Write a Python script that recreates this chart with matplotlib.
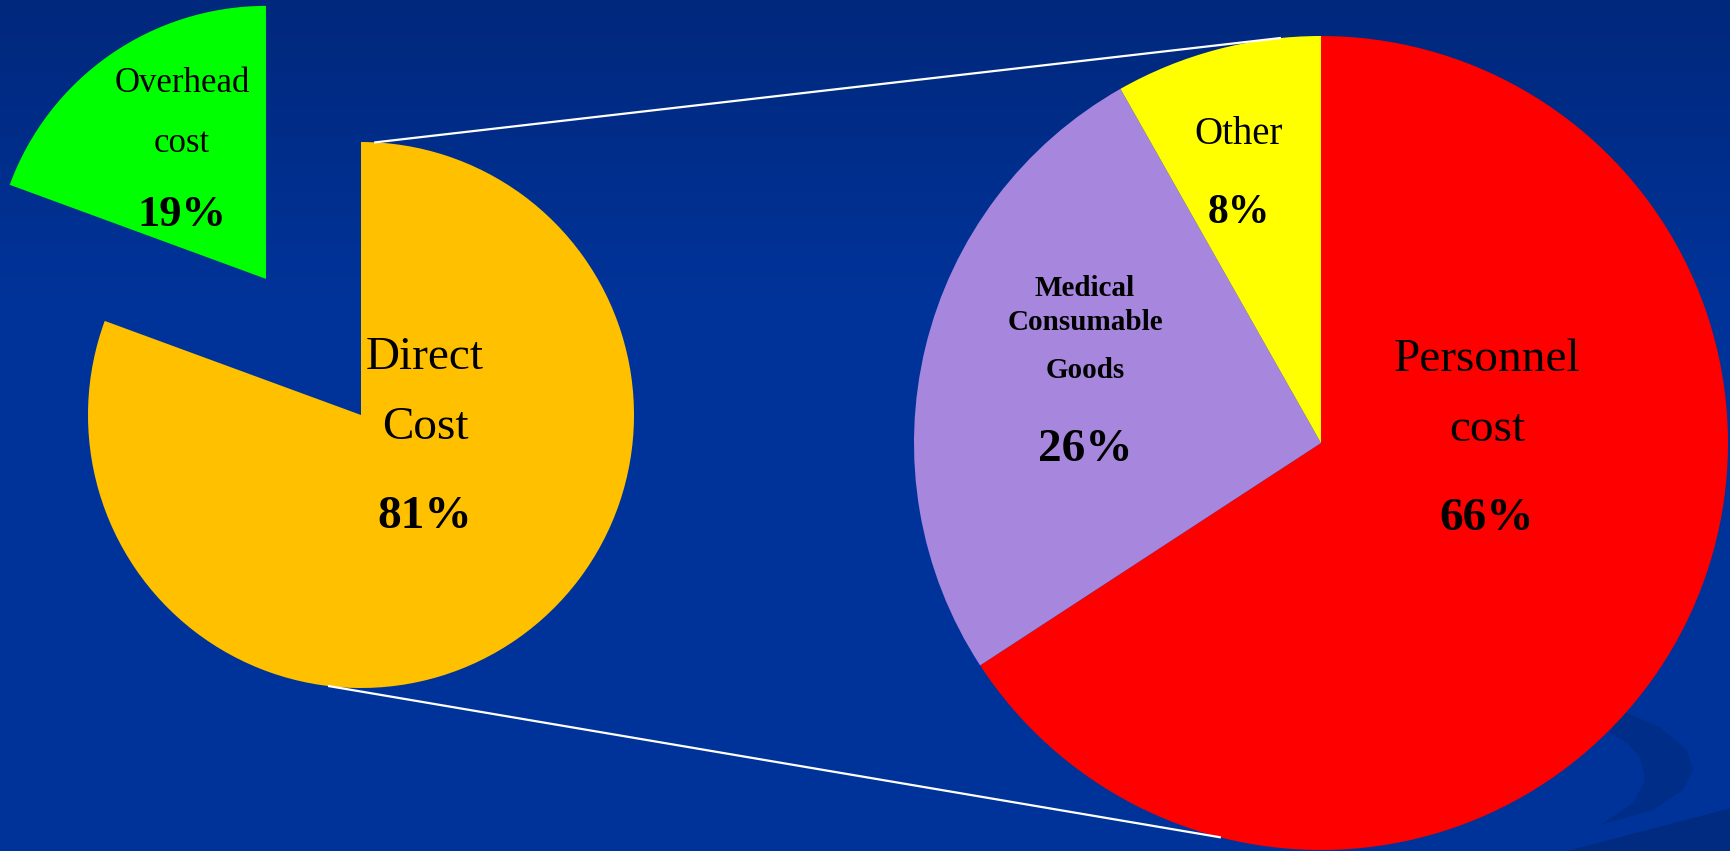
import numpy as np
import matplotlib.pyplot as plt
from matplotlib.patches import Polygon

W, H = 1731, 851

# data (shares as measured from the wedge angles)
left_labels = ['Overhead\ncost', 'Direct\nCost']
left_values = [19.4, 80.6]
left_colors = ['#00FF00', '#FFC000']

right_labels = ['Personnel\ncost', 'Medical\nConsumable\nGoods', 'Other']
right_values = [65.8, 26.0, 8.2]
right_colors = ['#FF0000', '#A786DE', '#FFFF00']

# layout (pixels, y measured from the top)
left_center = (361, 415)
left_radius = 273
left_explode = [166, 0]
right_center = (1321, 443)
right_radius = 407

SERIF = 'Liberation Serif'


def up(y):
    return H - y


fig = plt.figure(figsize=(W / 100, H / 100), dpi=100)
ax = fig.add_axes([0, 0, 1, 1])

# background: dark blue with a slightly darker top
grad = np.clip(np.linspace(0, 1, 200) / 0.35, 0, 1)
top = np.array([0x00, 0x28, 0x7C]) / 255
base = np.array([0x00, 0x33, 0x99]) / 255
img = (top[None, :] * (1 - grad[:, None]) + base[None, :] * grad[:, None])[:, None, :]
ax.imshow(img, extent=[0, W, 0, H], aspect='auto', origin='upper', zorder=0)

# swoosh decoration bottom right
swoosh = [(1615, 708), (1660, 727), (1687, 750), (1693, 770), (1683, 790), (1653, 810),
          (1600, 825), (1633, 803), (1645, 780), (1640, 757), (1627, 743), (1610, 733)]
ax.add_patch(Polygon([(x, up(y)) for x, y in swoosh], closed=True, fc='#002D88', ec='none', zorder=1))
ax.add_patch(Polygon([(1567, 0), (W, up(808)), (W, 0)], closed=True, fc='#002B80', ec='none', zorder=1))

# pies
ax.pie(left_values, colors=left_colors, startangle=90, counterclock=True,
       radius=left_radius, center=(left_center[0], up(left_center[1])),
       explode=left_explode, wedgeprops=dict(linewidth=0), frame=True)
ax.pie(right_values, colors=right_colors, startangle=90, counterclock=False,
       radius=right_radius, center=(right_center[0], up(right_center[1])),
       wedgeprops=dict(linewidth=0), frame=True)

# connector lines between the pies
for a_left, a_right in [(87, 95.8), (263.3, 255.6)]:
    x0 = left_center[0] + left_radius * np.cos(np.radians(a_left))
    y0 = up(left_center[1]) + left_radius * np.sin(np.radians(a_left))
    x1 = right_center[0] + right_radius * np.cos(np.radians(a_right))
    y1 = up(right_center[1]) + right_radius * np.sin(np.radians(a_right))
    ax.plot([x0, x1], [y0, y1], color='white', lw=1.6, zorder=5)

# labels
texts = [
    ('Overhead', 182, 84, 25, 'normal'),
    ('cost', 182, 143, 25, 'normal'),
    ('19%', 182, 215, 32, 'bold'),
    ('Direct', 425, 358, 34, 'normal'),
    ('Cost', 425, 428, 34, 'normal'),
    ('81%', 425, 517, 34, 'bold'),
    ('Other', 1239, 134, 28, 'normal'),
    ('8%', 1239, 213, 30, 'bold'),
    ('Medical', 1085, 288, 21, 'bold'),
    ('Consumable', 1085, 323, 21, 'bold'),
    ('Goods', 1085, 371, 21, 'bold'),
    ('26%', 1085, 450, 34, 'bold'),
    ('Personnel', 1487, 360, 34, 'normal'),
    ('cost', 1487, 430, 34, 'normal'),
    ('66%', 1487, 519, 34, 'bold'),
]
for s, x, y, size, weight in texts:
    ax.text(x, up(y), s, ha='center', va='center', fontsize=size, fontweight=weight,
            family=SERIF, color='black', zorder=6)

ax.set_xlim(0, W)
ax.set_ylim(0, H)
ax.set_aspect('auto')
ax.axis('off')

fig.savefig('out.png', dpi=100)
